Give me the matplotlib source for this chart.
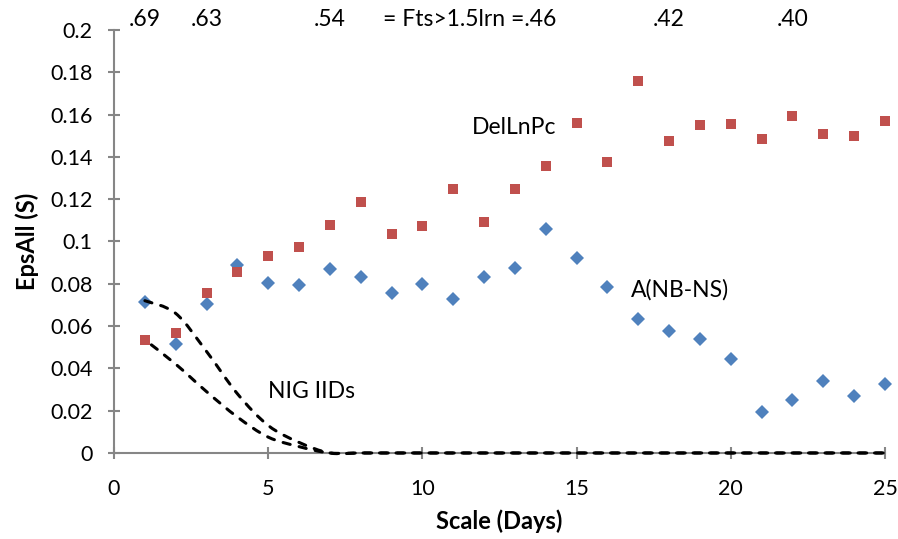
import matplotlib
matplotlib.use("Agg")
import matplotlib.pyplot as plt
from matplotlib.path import Path
from matplotlib.patches import PathPatch
import numpy as np

plt.rcParams['font.family'] = ['Lato', 'DejaVu Sans']

scale = list(range(1, 26))
a_nbns = [0.0715, 0.0515, 0.0705, 0.0889, 0.0804, 0.0794, 0.0870, 0.0832, 0.0757, 0.0799,
          0.0728, 0.0832, 0.0875, 0.1060, 0.0922, 0.0785, 0.0634, 0.0577, 0.0539, 0.0445,
          0.0194, 0.0251, 0.0341, 0.0270, 0.0326]
dellnpc = [0.0535, 0.0568, 0.0757, 0.0856, 0.0932, 0.0974, 0.1078, 0.1187, 0.1036, 0.1074,
           0.1249, 0.1093, 0.1249, 0.1357, 0.1560, 0.1376, 0.1760, 0.1476, 0.1550, 0.1556,
           0.1485, 0.1594, 0.1510, 0.1500, 0.1570]
nig_upper = [0.0720, 0.0660, 0.0480, 0.0280, 0.0130, 0.0050, 0.0] + [0.0] * 18
nig_lower = [0.0535, 0.0420, 0.0290, 0.0170, 0.0075, 0.0030, 0.0] + [0.0] * 18

top_labels = [(1, ".69"), (3, ".63"), (7, ".54"), (18, ".42"), (22, ".40")]
mid_label = "= Fts>1.5lrn =.46"

fig = plt.figure(figsize=(8.98, 5.39), dpi=100)
ax = fig.add_axes([0.127, 0.1596, 0.8585, 0.7847])


def smooth_path(xs, ys):
    xs = np.asarray(xs, float)
    ys = np.asarray(ys, float)
    n = len(xs)
    verts = [(xs[0], ys[0])]
    codes = [Path.MOVETO]
    for i in range(n - 1):
        p0 = (xs[max(i - 1, 0)], ys[max(i - 1, 0)])
        p1 = (xs[i], ys[i])
        p2 = (xs[i + 1], ys[i + 1])
        p3 = (xs[min(i + 2, n - 1)], ys[min(i + 2, n - 1)])
        c1 = (p1[0] + (p2[0] - p0[0]) / 6, p1[1] + (p2[1] - p0[1]) / 6)
        c2 = (p2[0] - (p3[0] - p1[0]) / 6, p2[1] - (p3[1] - p1[1]) / 6)
        verts += [c1, c2, p2]
        codes += [Path.CURVE4] * 3
    return Path(verts, codes)


for ys, off in ((nig_upper, 0.0), (nig_lower, 2.7)):
    patch = PathPatch(smooth_path(scale, ys), facecolor='none', edgecolor='black',
                      lw=2.2, linestyle=(off, (2.4, 3.0)), capstyle='round', zorder=4,
                      clip_on=False)
    ax.add_patch(patch)

ax.plot(scale, a_nbns, linestyle='none', marker='D', markersize=6.8,
        color='#4F81BD', markeredgewidth=0, zorder=3, clip_on=False)
ax.plot(scale, dellnpc, linestyle='none', marker='s', markersize=7.2,
        color='#C0504D', markeredgewidth=0, zorder=3, clip_on=False)

ax.set_xlim(0, 25)
ax.set_ylim(0, 0.2)
ax.set_xticks([0, 5, 10, 15, 20, 25])
yt = [0, 0.02, 0.04, 0.06, 0.08, 0.1, 0.12, 0.14, 0.16, 0.18, 0.2]
ax.set_yticks(yt)
ax.set_yticklabels(["0" if v == 0 else ("%g" % v) for v in yt])

for s in ('top', 'right'):
    ax.spines[s].set_visible(False)
for s in ('left', 'bottom'):
    ax.spines[s].set_color('#868686')
    ax.spines[s].set_linewidth(1.5)
ax.tick_params(axis='both', direction='inout', length=9, width=1.5, color='#868686',
               labelsize=15.5, labelcolor='black')
ax.tick_params(axis='y', pad=11)
ax.tick_params(axis='x', pad=14)

ax.set_xlabel("Scale (Days)", fontsize=17, fontweight='bold', labelpad=8)
ax.set_ylabel("EpsAll (S)", fontsize=17, fontweight='bold', labelpad=8)

ax.text(12.97, 0.1537, "DelLnPc", fontsize=16.5, ha='center', va='center')
ax.text(18.35, 0.0770, "A(NB-NS)", fontsize=16.5, ha='center', va='center')
ax.text(6.39, 0.0289, "NIG IIDs", fontsize=16.5, ha='center', va='center')

for x, t in top_labels:
    ax.text(x, 0.2048, t, fontsize=16.5, ha='center', va='center', clip_on=False)
ax.text(8.72, 0.2048, mid_label, fontsize=16.5, ha='left', va='center', clip_on=False)

fig.savefig("out.png", dpi=100)
